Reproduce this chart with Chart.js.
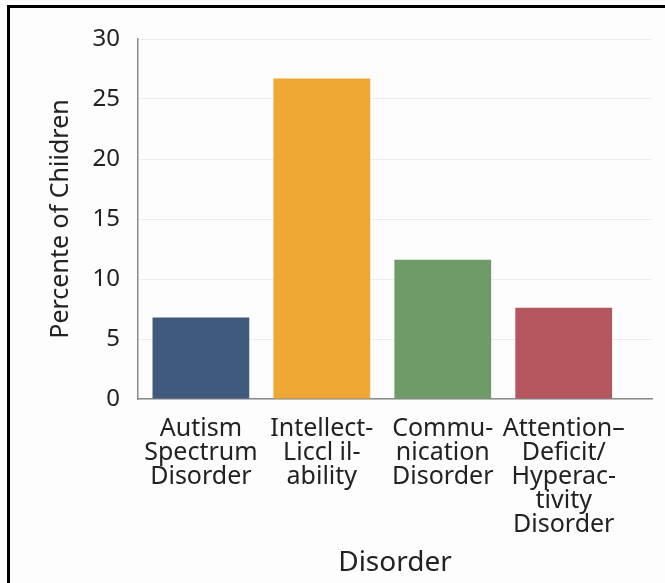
<!DOCTYPE html>
<html>
<head>
<meta charset="utf-8">
<script src="https://cdn.jsdelivr.net/npm/chart.js@4/dist/chart.umd.min.js"></script>
<style>
  html, body { margin: 0; padding: 0; background: #fdfdfd; }
  #wrap { position: relative; width: 665px; height: 583px; }
  #frame {
    position: absolute; left: 7px; top: 5px; right: 0; bottom: 0;
    border-left: 3px solid #000; border-top: 3px solid #000;
    pointer-events: none;
  }
  canvas { position: absolute; left: 0; top: 0; }
</style>
</head>
<body>
<div id="wrap">
  <canvas id="chart" width="665" height="583"></canvas>
  <div id="frame"></div>
</div>
<script>
// Share of children by disorder type
const categories = [
  ["Autism", "Spectrum", "Disorder"],
  ["Intellect-", "Liccl il-", "ability"],
  ["Commu-", "nication", "Disorder"],
  ["Attention–", "Deficit/", "Hyperac-", "tivity", "Disorder"]
];
const percentValues = [6.8, 26.7, 11.6, 7.6];
const barColors = ["#405a7e", "#efa733", "#6e9b68", "#b5565f"];
const yTicks = [0, 5, 10, 15, 20, 25, 30];
const yTitle = "Percente of Chiidren";
const xTitle = "Disorder";

const FONT = "'Noto Sans', 'DejaVu Sans', sans-serif";

// one bar per category, placed at its index on a numeric x scale
const barPoints = percentValues.map((v, i) => ({ x: i, y: v }));

new Chart(document.getElementById("chart"), {
  type: "bar",
  data: {
    datasets: [{
      data: barPoints,
      backgroundColor: barColors,
      borderWidth: 0,
      categoryPercentage: 1.0,
      barPercentage: 0.8
    }]
  },
  options: {
    responsive: false,
    animation: false,
    layout: { padding: { left: 40, right: 13, top: 39, bottom: 0 } },
    plugins: {
      legend: { display: false },
      tooltip: { enabled: false }
    },
    scales: {
      x: {
        type: "linear",
        offset: false,
        min: -0.52,
        max: 3.73,
        afterBuildTicks: s => { s.ticks = categories.map((c, i) => ({ value: i })); },
        grid: { display: false, drawTicks: false },
        border: { display: true, color: "#8a8a8a", width: 1.5 },
        ticks: {
          color: "#222",
          padding: 18,
          maxRotation: 0,
          autoSkip: false,
          callback: v => categories[v],
          font: { family: FONT, size: 25, lineHeight: 0.96 }
        },
        title: {
          display: true,
          text: xTitle,
          color: "#222",
          padding: { top: 0, bottom: 3 },
          font: { family: FONT, size: 28 }
        },
        afterFit: s => { s.height = 184; }
      },
      y: {
        min: 0,
        max: 30,
        afterBuildTicks: s => { s.ticks = yTicks.map(v => ({ value: v })); },
        grid: { color: "#ececec", lineWidth: 1, drawTicks: false },
        border: { display: true, color: "#8a8a8a", width: 1.5 },
        ticks: {
          color: "#222",
          padding: 18,
          font: { family: FONT, size: 24 }
        },
        title: {
          display: true,
          text: yTitle,
          color: "#222",
          padding: { top: 6, bottom: 0 },
          font: { family: FONT, size: 25 }
        },
        afterFit: s => { s.width = 98; }
      }
    }
  }
});
</script>
</body>
</html>
